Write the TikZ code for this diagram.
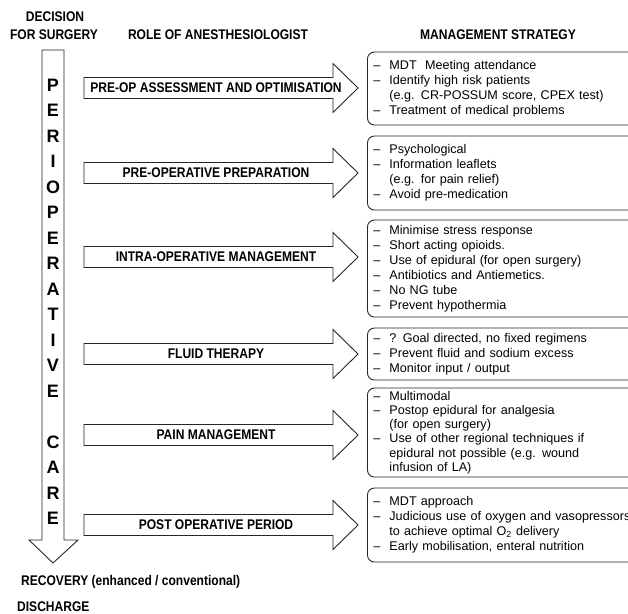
\documentclass[tikz,border=0pt]{standalone}
\usepackage{fontspec}
\setmainfont{Liberation Sans}
\newfontfamily\condfont{Liberation Sans}[FakeStretch=0.86]
\newcommand\mgdash{\makebox[16pt][l]{–}}
\newcommand\mgind{\hspace*{16pt}}
\begin{document}
\begin{tikzpicture}[x=1pt,y=-1pt,
  hdr/.style={font=\condfont\bfseries\fontsize{14}{16}\selectfont, inner sep=0pt},
  vlet/.style={font=\bfseries\fontsize{18}{18}\selectfont, inner sep=0pt},
  arrowline/.style={draw=black!85, line width=0.9pt},
  mbox/.style={draw=black!85, line width=0.9pt, rounded corners=7pt, anchor=west,
    minimum width=275pt, text width=263pt, inner xsep=6pt, inner ysep=0pt, align=left,
    font=\fontsize{12.6}{15.1}\selectfont}]
\useasboundingbox (0,0) rectangle (628,613);
\clip (0,0) rectangle (628,613);

% headers
\node[hdr] (dec1) at (55,17) {DECISION};
\node[hdr] (dec2) at (54,35) {FOR SURGERY};
\node[hdr] (role) at (218,35) {ROLE OF ANESTHESIOLOGIST};
\node[hdr] (mgmt) at (498,35) {MANAGEMENT STRATEGY};

% vertical arrow
\draw[arrowline] (42,50) -- (64,50) -- (64,540) -- (78,540) -- (53,563) -- (29,540) -- (42,540) -- cycle;
\foreach \l [count=\k from 0] in {P,E,R,I,O,P,E,R,A,T,I,V,E}
  \node[vlet] (v\k) at (53,{85+25.5*\k}) {\l};
\foreach \l [count=\k from 14] in {C,A,R,E}
  \node[vlet] (v\k) at (53,{85+25.5*\k}) {\l};

% role arrows
\foreach \c/\i/\t in {88/1/PRE-OP ASSESSMENT AND OPTIMISATION,
                      173/2/PRE-OPERATIVE PREPARATION,
                      257/3/INTRA-OPERATIVE MANAGEMENT,
                      354/4/FLUID THERAPY,
                      435/5/PAIN MANAGEMENT,
                      525/6/POST OPERATIVE PERIOD}{
  \draw[arrowline] (84,\c-10.5) -- (333,\c-10.5) -- (333,\c-24.5) -- (358,\c)
     -- (333,\c+24.5) -- (333,\c+10.5) -- (84,\c+10.5) -- cycle;
  \node[hdr] (r\i) at (216,\c) {\t};
}

% management boxes
\node[mbox, minimum height=73pt] (m1) at (367,88.5) {%
\mgdash MDT\ \ Meeting attendance\\
\mgdash Identify high risk patients\\
\mgind (e.g. CR-POSSUM score, CPEX test)\\
\mgdash Treatment of medical problems};

\node[mbox, minimum height=74pt] (m2) at (367,173) {%
\mgdash Psychological\\
\mgdash Information leaflets\\
\mgind (e.g. for pain relief)\\
\mgdash Avoid pre-medication};

\node[mbox, minimum height=97pt] (m3) at (367,268.5) {%
\mgdash Minimise stress response\\
\mgdash Short acting opioids.\\
\mgdash Use of epidural (for open surgery)\\
\mgdash Antibiotics and Antiemetics.\\
\mgdash No NG tube\\
\mgdash Prevent hypothermia};

\node[mbox, minimum height=52pt] (m4) at (367,354) {%
\mgdash ? Goal directed, no fixed regimens\\
\mgdash Prevent fluid and sodium excess\\
\mgdash Monitor input / output};

\node[mbox, minimum height=89pt, font=\fontsize{12.6}{14.2}\selectfont] (m5) at (367,432.5) {%
\mgdash Multimodal\\
\mgdash Postop epidural for analgesia\\
\mgind (for open surgery)\\
\mgdash Use of other regional techniques if\\
\mgind epidural not possible (e.g. wound\\
\mgind infusion of LA)};

\node[mbox, minimum height=74pt] (m6) at (367,525) {%
\mgdash MDT approach\\
\mgdash Judicious use of oxygen and vasopressors\\
\mgind to achieve optimal O\textsubscript{2} delivery\\
\mgdash Early mobilisation, enteral nutrition};

% bottom labels
\node[hdr, anchor=west] (rec) at (21,582) {RECOVERY (enhanced / conventional)};
\node[hdr, anchor=west] (dis) at (17,607) {DISCHARGE};
\end{tikzpicture}
\end{document}
